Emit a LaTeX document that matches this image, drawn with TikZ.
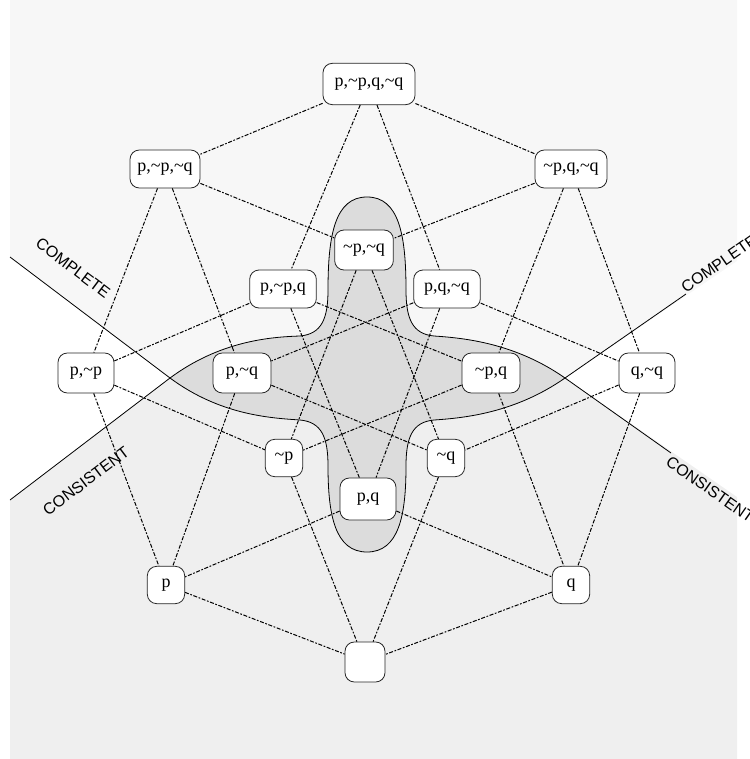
\documentclass[tikz,border=0pt]{standalone}
\usepackage{fontspec}
\setmainfont{Liberation Serif}
\newfontfamily\labelfont{Liberation Sans}

\newcommand{\nt}{\textasciitilde}
\newcommand{\setfont}{\fontsize{13.5}{16}\selectfont}

\definecolor{completegray}{HTML}{F7F7F7}
\definecolor{consistgray}{HTML}{EFEFEF}
\definecolor{bothgray}{HTML}{DCDCDC}

% inner parts of the two borders, left tip to right tip
\newcommand{\innertop}{(170,378) .. controls (220,341) and (270,337) .. (300,336)
  .. controls (322,334) and (328,318) .. (328,290)
  .. controls (328,235) and (335,197) .. (367,197)
  .. controls (399,197) and (406,235) .. (406,290)
  .. controls (406,318) and (412,334) .. (434,336)
  .. controls (464,338) and (515,343) .. (565,378)}
\newcommand{\innerbottom}{(170,378) .. controls (220,415) and (270,418) .. (300,420)
  .. controls (322,422) and (328,438) .. (328,466)
  .. controls (328,515) and (335,552) .. (367,552)
  .. controls (399,552) and (406,515) .. (406,466)
  .. controls (406,438) and (412,422) .. (434,420)
  .. controls (464,418) and (515,413) .. (565,378)}

\tikzset{
  setbox/.style={draw=black!85, fill=white, rounded corners=7pt, line width=0.6pt,
    inner sep=2pt, minimum height=29pt, minimum width=#1, font=\setfont},
  setbox/.default=28pt,
  link/.style={line width=0.75pt, dash pattern=on 3pt off 1.2pt on 1.3pt off 1.2pt},
  border/.style={line width=0.6pt},
  sidelabel/.style={font=\labelfont\fontsize{12}{14}\selectfont, inner sep=0.5pt}
}

\begin{document}
\begin{tikzpicture}[x=0.75pt,y=-0.75pt]
  \useasboundingbox (0,0) rectangle (749,759);

  % regions
  \fill[completegray] (10,0) -- (10,257) -- \innerbottom -- (737,261) -- (737,0) -- cycle;
  \fill[consistgray] (10,759) -- (10,500) -- \innertop -- (737,497) -- (737,759) -- cycle;
  \begin{scope}
    \clip (10,0) -- (10,257) -- \innerbottom -- (737,261) -- (737,0) -- cycle;
    \fill[bothgray] (10,759) -- (10,500) -- \innertop -- (737,497) -- (737,759) -- cycle;
  \end{scope}

  \draw[border] (10,257) -- \innerbottom -- (686,294);
  \draw[border] (10,500) -- \innertop -- (671,453);

  \node[sidelabel, rotate=-37] (cmpleft) at (73,268) {COMPLETE};
  \node[sidelabel, rotate=37] (conleft) at (86,481) {CONSISTENT};
  \node[sidelabel, rotate=35, anchor=south west] (cmpright) at (686,295) {COMPLETE};
  \node[sidelabel, rotate=-35, anchor=north west] (conright) at (671,454) {CONSISTENT};

  % sets
  \node[setbox=69pt, minimum height=31pt] (full) at (369,84) {p,\nt p,q,\nt q};
  \node[setbox=52.5pt, minimum height=28.5pt] (pnpnq) at (165,169) {p,\nt p,\nt q};
  \node[setbox=54pt, minimum height=28.5pt] (npqnq) at (571,169) {\nt p,q,\nt q};
  \node[setbox=50pt, minimum height=28.5pt] (pnpq) at (283,289) {p,\nt p,q};
  \node[setbox=50pt, minimum height=28.5pt] (pqnq) at (447,289) {p,q,\nt q};
  \node[setbox=44pt, minimum height=30pt] (npnq) at (364,250) {\nt p,\nt q};
  \node[setbox=42pt, minimum height=30pt] (pnp) at (86,373) {p,\nt p};
  \node[setbox=43.5pt, minimum height=30pt] (pnq) at (242,373) {p,\nt q};
  \node[setbox=43.5pt, minimum height=30pt] (npq) at (491,373) {\nt p,q};
  \node[setbox=42pt, minimum height=30pt] (qnq) at (647,373) {q,\nt q};
  \node[setbox=42pt, minimum height=31.5pt] (pq) at (368,499) {p,q};
  \node[setbox, minimum height=28pt] (np) at (284,458) {\nt p};
  \node[setbox, minimum height=28pt] (nq) at (446,458) {\nt q};
  \node[setbox, minimum height=28pt] (p) at (166,585) {p};
  \node[setbox, minimum height=28pt] (q) at (571,585) {q};
  \node[setbox=30pt, minimum height=30pt] (empty) at (365,662) {};

  % subset links
  \draw[link] (full) -- (pnpnq);
  \draw[link] (full) -- (npqnq);
  \draw[link] (full) -- (pnpq);
  \draw[link] (full) -- (pqnq);

  \draw[link] (pnpnq) -- (pnp);
  \draw[link] (pnpnq) -- (pnq);
  \draw[link] (pnpnq) -- (npnq);
  \draw[link] (npqnq) -- (qnq);
  \draw[link] (npqnq) -- (npq);
  \draw[link] (npqnq) -- (npnq);
  \draw[link] (pnpq) -- (pnp);
  \draw[link] (pnpq) -- (pq);
  \draw[link] (pnpq) -- (npq);
  \draw[link] (pqnq) -- (qnq);
  \draw[link] (pqnq) -- (pq);
  \draw[link] (pqnq) -- (pnq);

  \draw[link] (npnq) -- (np);
  \draw[link] (npnq) -- (nq);
  \draw[link] (pnp) -- (p);
  \draw[link] (pnp) -- (np);
  \draw[link] (pnq) -- (p);
  \draw[link] (pnq) -- (nq);
  \draw[link] (npq) -- (np);
  \draw[link] (npq) -- (q);
  \draw[link] (qnq) -- (q);
  \draw[link] (qnq) -- (nq);
  \draw[link] (pq) -- (p);
  \draw[link] (pq) -- (q);

  \draw[link] (p) -- (empty);
  \draw[link] (q) -- (empty);
  \draw[link] (np) -- (empty);
  \draw[link] (nq) -- (empty);
\end{tikzpicture}
\end{document}
